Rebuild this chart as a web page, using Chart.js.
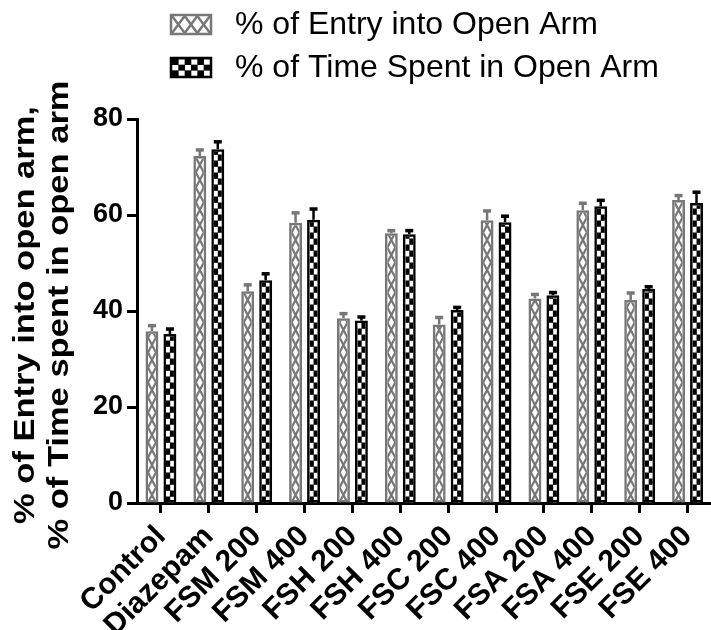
<!DOCTYPE html>
<html>
<head>
<meta charset="utf-8">
<script src="https://cdn.jsdelivr.net/npm/chart.js@4.4.1/dist/chart.umd.min.js"></script>
<style>
  html, body { margin: 0; padding: 0; background: #fff; overflow: hidden; width: 711px; height: 630px; }
  #wrap { position: relative; width: 719px; height: 630px; }
</style>
</head>
<body>
<div id="wrap"><canvas id="c" width="719" height="630"></canvas></div>
<script>
// Elevated plus maze: open-arm entries and time (mean, upward SEM)
const groups = ['Control', 'Diazepam', 'FSM 200', 'FSM 400', 'FSH 200', 'FSH 400',
                'FSC 200', 'FSC 400', 'FSA 200', 'FSA 400', 'FSE 200', 'FSE 400'];
const entryPct = [35.8, 72.3, 44.1, 58.4, 38.5, 56.2, 37.2, 58.9, 42.6, 61.0, 42.3, 63.1];
const entryErr = [1.2, 1.3, 1.4, 2.1, 1.0, 0.6, 1.5, 2.0, 0.9, 1.5, 1.5, 1.0];
const timePct  = [35.2, 73.7, 46.4, 59.0, 38.0, 56.0, 40.2, 58.5, 43.3, 61.8, 44.6, 62.5];
const timeErr  = [1.1, 1.6, 1.4, 2.3, 0.8, 0.8, 0.6, 1.3, 0.6, 1.3, 0.5, 2.3];
const yTicks = [0, 20, 40, 60, 80];
const legendLabels = ['% of Entry into Open Arm', '% of Time Spent in Open Arm'];
const yTitleLines = ['% of Entry into open arm,', '% of Time spent in open arm'];

const GREY = '#777777';
const BLACK = '#000000';
const FONT = '"Liberation Sans", Arial, sans-serif';

// Fill styles drawn inside a rectangle
function drawCross(ctx, l, t, r, b, cellH, color) {
  ctx.save();
  ctx.beginPath(); ctx.rect(l, t, r - l, b - t); ctx.clip();
  ctx.strokeStyle = color; ctx.lineWidth = 2.2;
  ctx.beginPath();
  for (let y = b; y > t - cellH; y -= cellH) {
    ctx.moveTo(l, y); ctx.lineTo(r, y - cellH);
    ctx.moveTo(r, y); ctx.lineTo(l, y - cellH);
  }
  ctx.stroke();
  ctx.restore();
}
function drawCrossRow(ctx, l, t, r, b, cells, color) {
  ctx.save();
  ctx.beginPath(); ctx.rect(l, t, r - l, b - t); ctx.clip();
  ctx.strokeStyle = color; ctx.lineWidth = 2.5;
  const w = (r - l) / cells;
  ctx.beginPath();
  for (let i = 0; i < cells; i++) {
    const x0 = l + i * w, x1 = x0 + w;
    ctx.moveTo(x0, t); ctx.lineTo(x1, b);
    ctx.moveTo(x1, t); ctx.lineTo(x0, b);
  }
  ctx.stroke();
  ctx.restore();
}
function drawChecker(ctx, l, t, r, b, cols, cellH) {
  ctx.save();
  ctx.beginPath(); ctx.rect(l, t, r - l, b - t); ctx.clip();
  ctx.fillStyle = '#fff'; ctx.fillRect(l, t, r - l, b - t);
  ctx.fillStyle = BLACK;
  const w = (r - l) / cols;
  let row = 0;
  for (let y = b; y > t - cellH; y -= cellH, row++) {
    for (let c = 0; c < cols; c++) {
      if ((row + c) % 2 === 0) ctx.fillRect(l + c * w, y - cellH, w + 0.3, cellH + 0.3);
    }
  }
  ctx.restore();
}

const fillStyles = ['cross', 'checker'];
const errors = [entryErr, timeErr];

const patternPlugin = {
  id: 'patternFill',
  beforeDatasetsDraw(chart) {
    const ctx = chart.ctx;
    chart.data.datasets.forEach((ds, di) => {
      const meta = chart.getDatasetMeta(di);
      const bw = ds.borderWidth;
      meta.data.forEach(bar => {
        const p = bar.getProps(['x', 'y', 'base', 'width']);
        const l = p.x - p.width / 2 + bw, r = p.x + p.width / 2 - bw;
        const t = p.y + bw, b = p.base;
        if (fillStyles[di] === 'cross') drawCross(ctx, l, t, r, b, 15, ds.borderColor);
        else drawChecker(ctx, l, t, r, b, 2, 6);
      });
    });
  },
  afterDatasetsDraw(chart) {
    const ctx = chart.ctx;
    const yScale = chart.scales.y;
    chart.data.datasets.forEach((ds, di) => {
      const meta = chart.getDatasetMeta(di);
      meta.data.forEach((bar, i) => {
        const p = bar.getProps(['x', 'y']);
        const top = yScale.getPixelForValue(ds.data[i] + errors[di][i]);
        ctx.save();
        ctx.fillStyle = ds.borderColor;
        ctx.fillRect(p.x - 1.25, top, 2.5, p.y - top);
        ctx.fillRect(p.x - 4, top - 1.5, 8, 3.5);
        ctx.restore();
      });
    });
  }
};

const legendPlugin = {
  id: 'patternLegend',
  afterDraw(chart) {
    const ctx = chart.ctx;
    const boxL = 170, boxW = 42, boxH = 21, textX = 235;
    const rows = [14, 57];
    rows.forEach((top, i) => {
      const l = boxL, t = top, r = boxL + boxW, b = top + boxH;
      if (i === 0) {
        drawCrossRow(ctx, l + 2, t + 2, r - 2, b - 2, 3, GREY);
        ctx.strokeStyle = GREY;
      } else {
        drawChecker(ctx, l + 2, t + 2, r - 2, b - 2, 6, (boxH - 4) / 3);
        ctx.strokeStyle = BLACK;
      }
      ctx.lineWidth = 2.5;
      ctx.strokeRect(l + 1, t + 1, boxW - 2, boxH - 2);
      ctx.fillStyle = '#000';
      ctx.font = '32px ' + FONT;
      ctx.textBaseline = 'middle';
      ctx.textAlign = 'left';
      ctx.fillText(legendLabels[i], textX, top + boxH / 2 + 1);
    });
  }
};

const yTitlePlugin = {
  id: 'yTitleStretch',
  afterDraw(chart) {
    const ctx = chart.ctx;
    const area = chart.chartArea;
    const cy = (area.top + area.bottom) / 2 + 4;
    const centres = [26, 60];
    ctx.save();
    ctx.fillStyle = '#000';
    ctx.font = 'bold 30px ' + FONT;
    ctx.textAlign = 'center';
    ctx.textBaseline = 'middle';
    yTitleLines.forEach((line, i) => {
      ctx.save();
      ctx.translate(centres[i], cy);
      ctx.rotate(-Math.PI / 2);
      ctx.scale(1.15, 1);
      ctx.fillText(line, 0, 0);
      ctx.restore();
    });
    ctx.restore();
  }
};

new Chart(document.getElementById('c'), {
  type: 'bar',
  data: {
    labels: groups,
    datasets: [
      { label: legendLabels[0], data: entryPct, backgroundColor: 'rgba(0,0,0,0)',
        borderColor: GREY, borderWidth: 2.5, borderSkipped: false,
        categoryPercentage: 0.75, barPercentage: 0.72 },
      { label: legendLabels[1], data: timePct, backgroundColor: 'rgba(0,0,0,0)',
        borderColor: BLACK, borderWidth: 2.5, borderSkipped: false,
        categoryPercentage: 0.75, barPercentage: 0.72 }
    ]
  },
  options: {
    responsive: false,
    animation: false,
    layout: { padding: { top: 119, left: 0, right: 0, bottom: 0 } },
    plugins: { legend: { display: false }, tooltip: { enabled: false } },
    scales: {
      x: {
        offset: true,
        grid: { display: true, drawOnChartArea: false, offset: false,
                tickLength: 10, tickWidth: 3, tickColor: '#000' },
        border: { display: true, color: '#000', width: 3 },
        ticks: { color: '#000', font: { family: FONT, size: 30, weight: 'bold' },
                 minRotation: 45, maxRotation: 45, padding: 6, autoSkip: false },
        afterFit(scale) { scale.height = 127; }
      },
      y: {
        min: 0, max: 80,
        grid: { display: true, drawOnChartArea: false, tickLength: 10, tickWidth: 3, tickColor: '#000' },
        border: { display: true, color: '#000', width: 3 },
        ticks: { color: '#000', font: { family: FONT, size: 27, weight: 'bold' }, padding: 4 },
        afterBuildTicks(scale) { scale.ticks = yTicks.map(v => ({ value: v })); },
        afterFit(scale) { scale.width = 137; }
      }
    }
  },
  plugins: [patternPlugin, legendPlugin, yTitlePlugin]
});
</script>
</body>
</html>
